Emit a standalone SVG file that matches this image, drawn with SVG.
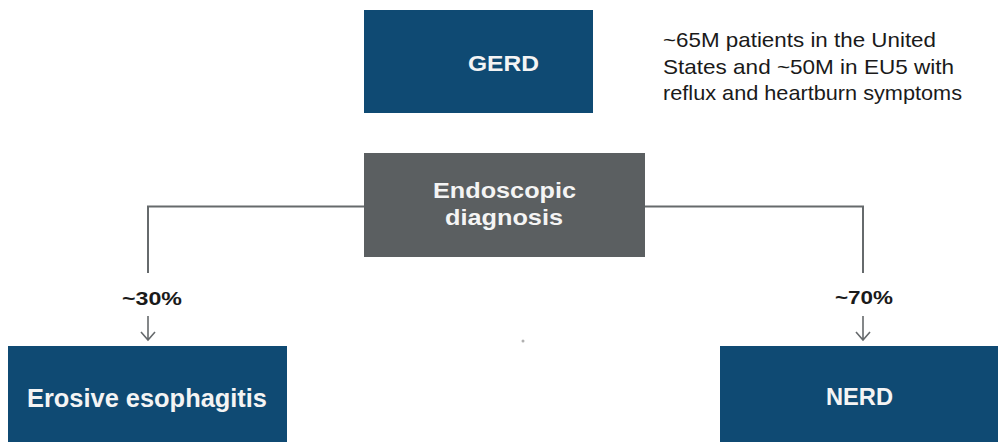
<svg xmlns="http://www.w3.org/2000/svg" width="998" height="442" viewBox="0 0 998 442">
<style>
.blue{fill:#0f4a73}
.gray{fill:#5b5f61}
.t{font-family:"Liberation Sans",Arial,sans-serif;font-weight:bold;fill:#f4f4f4}
.note{font-family:"Liberation Sans",Arial,sans-serif;fill:#1a1a1a;font-size:21px}
.pct{font-family:"Liberation Sans",Arial,sans-serif;font-weight:bold;fill:#1a1a1a;font-size:19px}
.ln{fill:none;stroke:#666a6c;stroke-width:2}
.ar{fill:none;stroke:#666a6c;stroke-width:1.6}
</style>
<rect width="998" height="442" fill="#ffffff"/>
<g id="gerd">
<rect class="blue" x="364" y="10" width="229" height="103"/>
<text class="t" x="468" y="71" font-size="22" textLength="71" lengthAdjust="spacingAndGlyphs">GERD</text>
</g>
<g id="note">
<text class="note" x="663" y="47" textLength="273" lengthAdjust="spacingAndGlyphs">~65M patients in the United</text>
<text class="note" x="663" y="74" textLength="291" lengthAdjust="spacingAndGlyphs">States and ~50M in EU5 with</text>
<text class="note" x="663" y="100" textLength="299" lengthAdjust="spacingAndGlyphs">reflux and heartburn symptoms</text>
</g>
<g id="endoscopic">
<rect class="gray" x="364" y="153" width="281" height="104"/>
<text class="t" x="433" y="198" font-size="22" textLength="143" lengthAdjust="spacingAndGlyphs">Endoscopic</text>
<text class="t" x="445" y="225" font-size="22" textLength="118" lengthAdjust="spacingAndGlyphs">diagnosis</text>
</g>
<g id="connectors">
<polyline class="ln" points="364,206.5 148,206.5 148,273"/>
<polyline class="ln" points="645,206.5 863,206.5 863,273"/>
<path class="ar" d="M148,316 V340 M141,332 L148,340 L155,332"/>
<path class="ar" d="M863,316 V340 M856,332 L863,340 L870,332"/>
</g>
<g id="labels">
<text class="pct" x="122" y="305" textLength="60" lengthAdjust="spacingAndGlyphs">~30%</text>
<text class="pct" x="835" y="304" textLength="58" lengthAdjust="spacingAndGlyphs">~70%</text>
</g>
<g id="erosive">
<rect class="blue" x="8" y="346" width="279" height="96"/>
<text class="t" x="27" y="407" font-size="25" textLength="240" lengthAdjust="spacingAndGlyphs">Erosive esophagitis</text>
</g>
<g id="nerd">
<rect class="blue" x="720" y="346" width="278" height="96"/>
<text class="t" x="826" y="405" font-size="24" textLength="67" lengthAdjust="spacingAndGlyphs">NERD</text>
</g>
<circle cx="523" cy="341" r="1.5" fill="#b0b0b0"/>
</svg>
